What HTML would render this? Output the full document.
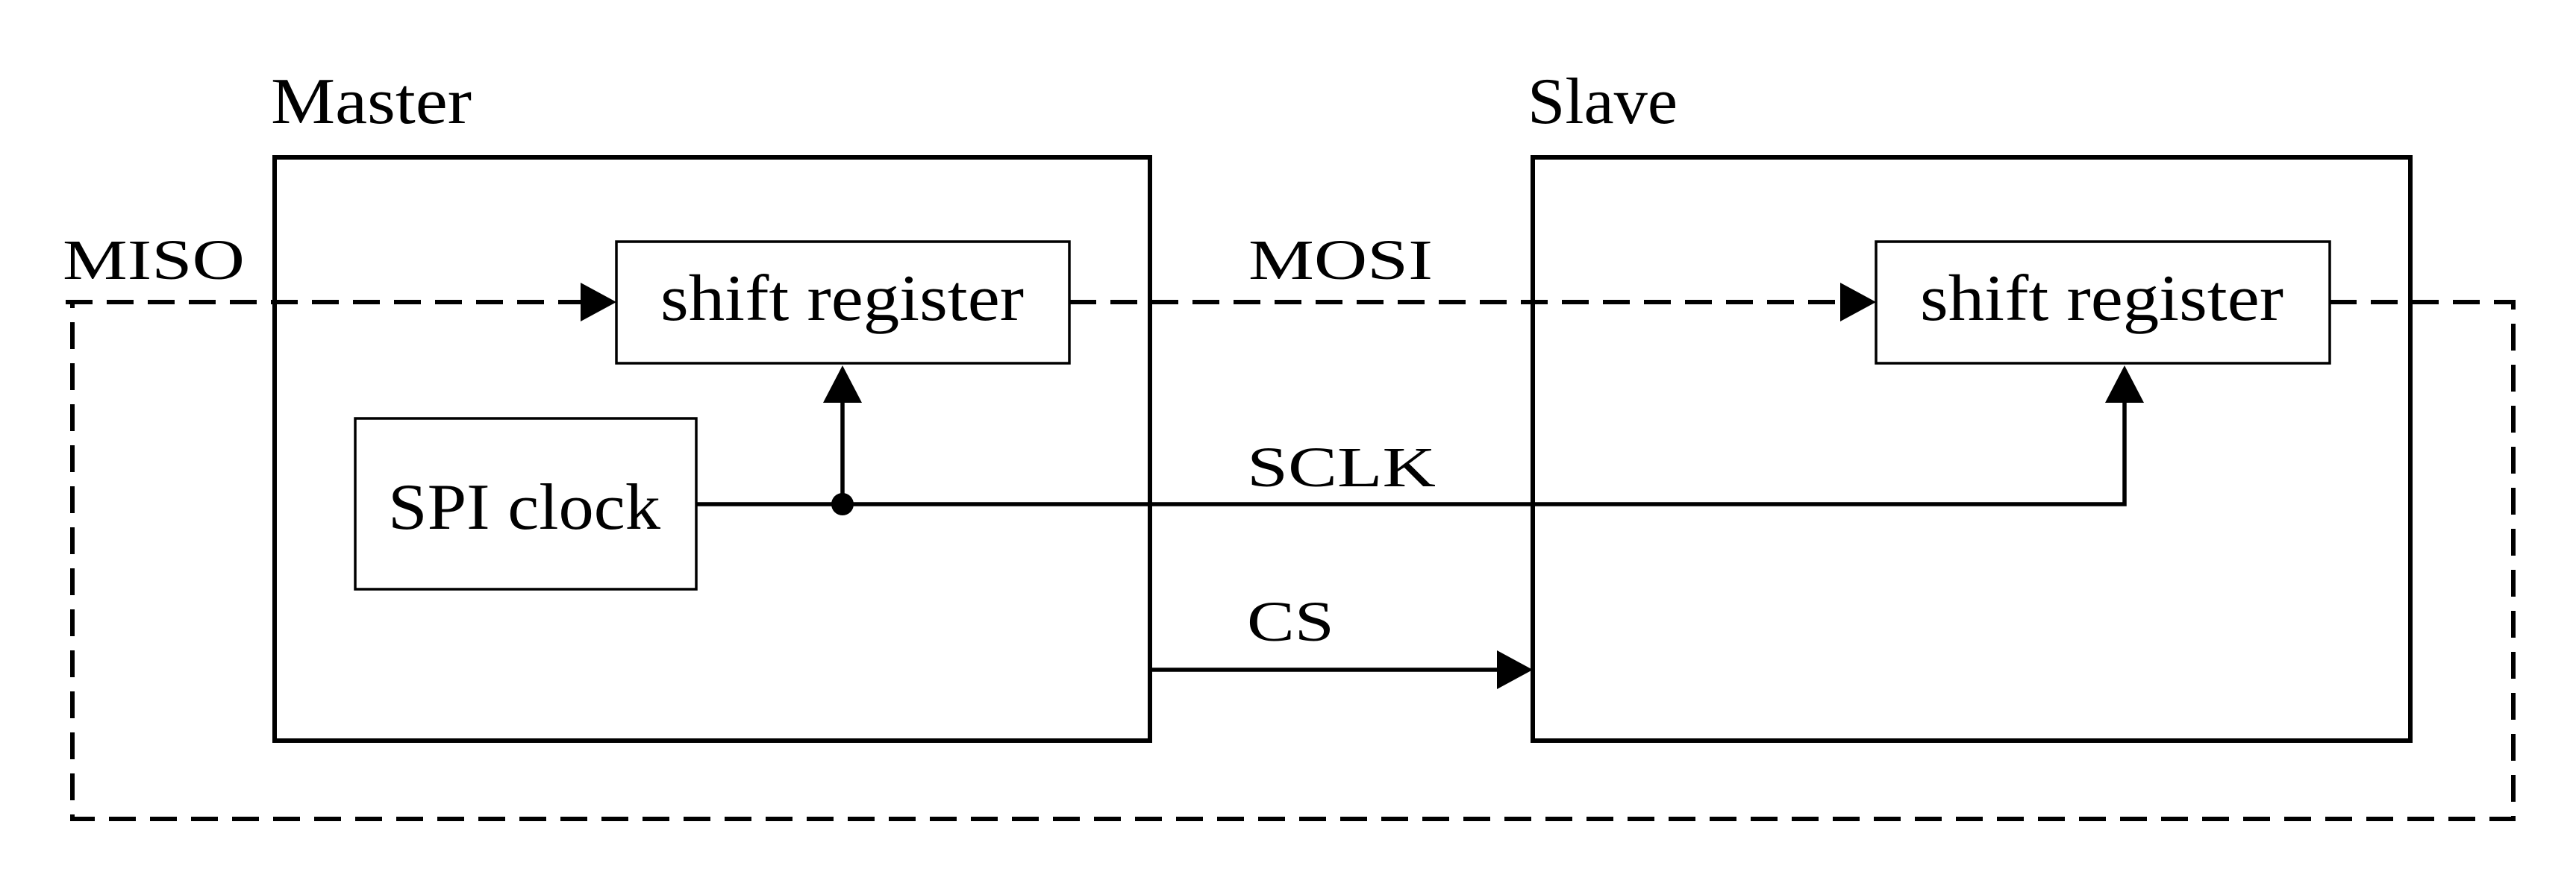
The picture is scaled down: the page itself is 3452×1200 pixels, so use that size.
<!DOCTYPE html>
<html><head><meta charset="utf-8"><style>html,body{margin:0;padding:0;background:#fff}svg{display:block}</style></head>
<body>
<svg width="3452" height="1200" viewBox="0 0 3452 1200" xmlns="http://www.w3.org/2000/svg" font-family="Liberation Serif, serif" fill="#000">
<rect width="3452" height="1200" fill="#fff"/>
<g fill="none" stroke="#000">
  <rect x="368" y="211" width="1173" height="782" stroke-width="6"/>
  <rect x="2054" y="211" width="1176" height="782" stroke-width="6"/>
  <rect x="826" y="324" width="607" height="163" stroke-width="3.5"/>
  <rect x="2514" y="324" width="608" height="163" stroke-width="3.5"/>
  <rect x="476" y="561" width="457" height="229" stroke-width="3.5"/>
  <g stroke-width="6" stroke-dasharray="36 19">
    <path d="M88 405 H778"/>
    <path d="M1433 405 H2466"/>
    <path d="M3122 405 H3368 V1098 H97 V405"/>
  </g>
  <path d="M933 676 H2847 V535" stroke-width="5.5"/>
  <path d="M1129 676 V535" stroke-width="5.5"/>
  <path d="M1541 898 H2006" stroke-width="5.5"/>
</g>
<polygon points="826,405 778,379 778,431"/>
<polygon points="2514,405 2466,379 2466,431"/>
<polygon points="2054,898 2006,872 2006,924"/>
<polygon points="1129,490 1103,540 1155,540"/>
<polygon points="2847,490 2821,540 2873,540"/>
<circle cx="1129" cy="676" r="15"/>
<g font-size="88">
  <text x="363" y="165" textLength="269" lengthAdjust="spacingAndGlyphs">Master</text>
  <text x="2047" y="165" textLength="201" lengthAdjust="spacingAndGlyphs">Slave</text>
  <text x="885" y="429" textLength="487" lengthAdjust="spacingAndGlyphs">shift register</text>
  <text x="2573" y="429" textLength="487" lengthAdjust="spacingAndGlyphs">shift register</text>
  <text x="520" y="709" textLength="365" lengthAdjust="spacingAndGlyphs">SPI clock</text>
</g>
<g font-size="76">
  <text x="84" y="374" textLength="244" lengthAdjust="spacingAndGlyphs">MISO</text>
  <text x="1673" y="374" textLength="247" lengthAdjust="spacingAndGlyphs">MOSI</text>
  <text x="1671" y="652" textLength="253" lengthAdjust="spacingAndGlyphs">SCLK</text>
  <text x="1671" y="859" textLength="117" lengthAdjust="spacingAndGlyphs">CS</text>
</g>
</svg>
</body></html>
